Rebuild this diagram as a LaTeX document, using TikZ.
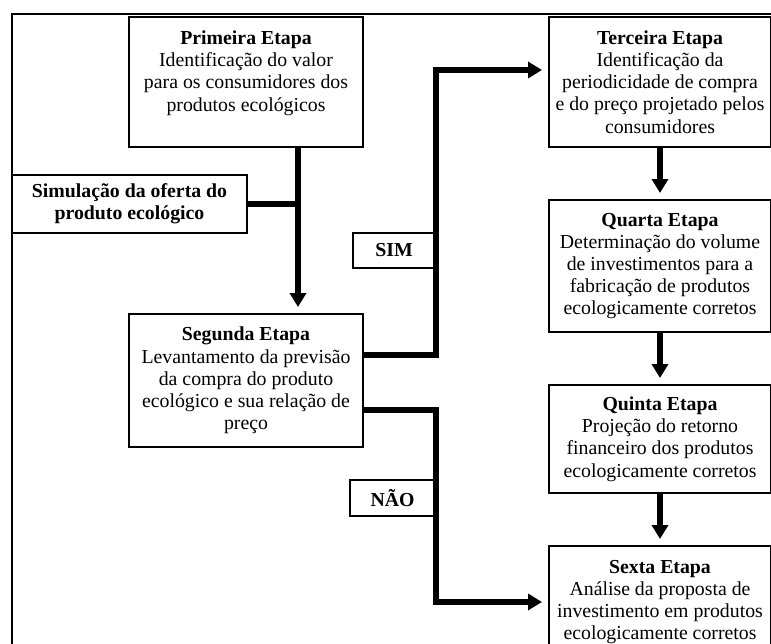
\documentclass[tikz,border=0pt]{standalone}
\usepackage{fontspec}
\setmainfont{Liberation Serif}
\usetikzlibrary{arrows.meta,positioning}
\tikzset{
  box/.style={draw, line width=1pt, align=center, inner sep=0.5pt, fill=white, font=\fontsize{9.9}{11.1}\selectfont},
  etapa/.style={box, minimum width=111pt},
  lbl/.style={box, font=\fontsize{9.9}{11.1}\selectfont\bfseries},
  flow/.style={line width=3pt},
  arr/.style={flow, -{Triangle[length=7pt,width=8pt]}, shorten >=3pt},
  frame/.style={line width=1.2pt}}

\begin{document}
\begin{tikzpicture}[x=0.5pt, y=-0.5pt, node distance=25.5pt]
  \useasboundingbox (0,0) rectangle (771,643);
  \clip (0,0) rectangle (771,643);
  \draw[frame] (12,660) |- (790,14);
  % left column
  \node[box, minimum width=117pt, minimum height=65pt] (primeira) at (246,82) {\textbf{Primeira Etapa}\\Identificação do valor\\para os consumidores dos\\produtos ecológicos\\\mbox{}};
  \node[box, minimum width=117pt, minimum height=66.5pt, below=82.5pt of primeira] (segunda) {\textbf{Segunda Etapa}\\Levantamento da previsão\\da compra do produto\\ecológico e sua relação de\\preço};
  \node[lbl, minimum width=117.5pt, minimum height=29pt] (simul) at (129.5,204) {Simulação da oferta do\\produto ecológico};
  \node[lbl, minimum width=41pt, minimum height=17.5pt] (sim) at (394,250.5) {SIM};
  \node[lbl, minimum width=42.5pt, minimum height=18pt] (nao) at (392.5,498) {NÃO};
  % right column
  \node[etapa, minimum height=65pt, right=92pt of primeira] (terceira) {\textbf{Terceira Etapa}\\Identificação da\\periodicidade de compra\\e do preço projetado pelos\\consumidores};
  \node[etapa, minimum height=66pt, below=of terceira] (quarta) {\textbf{Quarta Etapa}\\Determinação do volume\\de investimentos para a\\fabricação de produtos\\ecologicamente corretos};
  \node[etapa, minimum height=54pt, below=of quarta] (quinta) {\textbf{Quinta Etapa}\\Projeção do retorno\\financeiro dos produtos\\ecologicamente corretos};
  \node[etapa, minimum height=56pt, below=of quinta] (sexta) {\textbf{Sexta Etapa}\\Análise da proposta de\\investimento em produtos\\ecologicamente corretos};
  \coordinate (junc) at (298,205);
  \draw[flow] (simul.east) -- (simul.east -| junc);
  \draw[arr] (primeira.south -| junc) -- (segunda.north -| junc);
  \draw[arr] ([yshift=12.75pt]segunda.east) -| ([yshift=6pt]terceira.west -| sim.east) -- ([yshift=6pt]terceira.west);
  \draw[arr] ([yshift=-14.75pt]segunda.east) -| (sexta.west -| nao.east) -- (sexta.west);
  \draw[arr] (terceira) -- (quarta); \draw[arr] (quarta) -- (quinta); \draw[arr] (quinta) -- (sexta);
\end{tikzpicture}
\end{document}
